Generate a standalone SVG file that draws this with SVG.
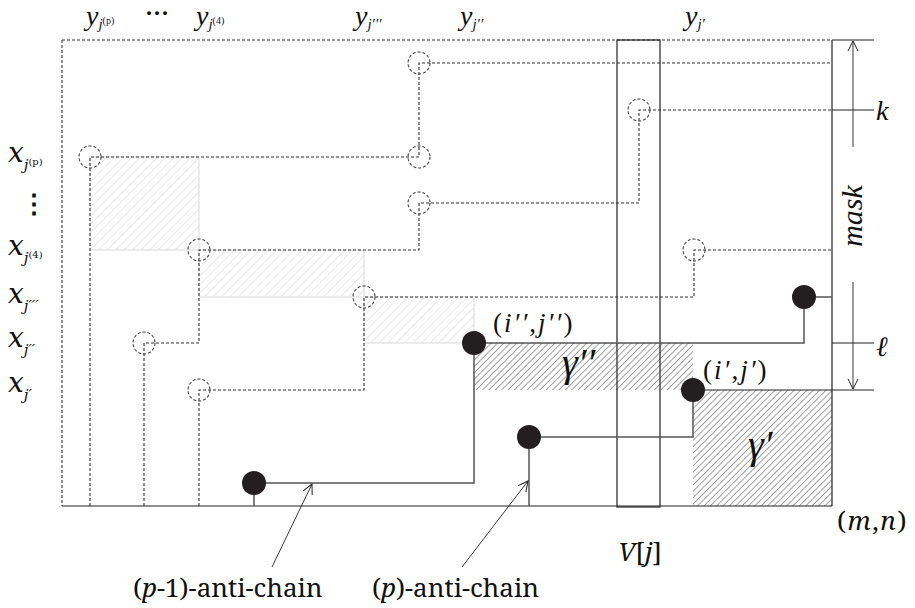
<svg xmlns="http://www.w3.org/2000/svg" width="915" height="608" viewBox="0 0 915 608">
<style>
text{fill:#111}
.m{font-style:italic}
.r{font-style:normal}
.dash{fill:none;stroke:#333;stroke-width:1.1;stroke-dasharray:3 2}
.dc{fill:none;stroke:#444;stroke-width:1.1;stroke-dasharray:3 2}
.solid{fill:none;stroke:#555;stroke-width:1.5}
.frame{fill:none;stroke:#222;stroke-width:1.2}
.dot{fill:#231f20}
.thin{fill:none;stroke:#222;stroke-width:0.9}
</style>
<defs>
<pattern id="hd" patternUnits="userSpaceOnUse" width="4.5" height="4.5" patternTransform="rotate(45)">
<line x1="0" y1="0" x2="0" y2="4.5" stroke="#444" stroke-width="1"/>
</pattern>
<pattern id="hl" patternUnits="userSpaceOnUse" width="6" height="6" patternTransform="rotate(45)">
<line x1="0" y1="0" x2="0" y2="6" stroke="#d4d4d4" stroke-width="1"/>
</pattern>
<marker id="oa" markerWidth="12" markerHeight="12" refX="10" refY="5" orient="auto" markerUnits="userSpaceOnUse" viewBox="0 0 12 10">
<path d="M0,0 L10,5 L0,10" fill="none" stroke="#222" stroke-width="1"/>
</marker>
</defs>

<g id="hatches">
<rect x="90" y="157" width="109" height="93" fill="url(#hl)" stroke="#e6e6e6" stroke-width="1.5"/>
<rect x="199" y="250" width="165" height="47" fill="url(#hl)" stroke="#e6e6e6" stroke-width="1.5"/>
<rect x="364" y="297" width="110" height="46" fill="url(#hl)" stroke="#e6e6e6" stroke-width="1.5"/>
<rect x="474" y="343" width="219" height="47" fill="url(#hd)"/>
<rect x="693" y="390" width="139" height="116" fill="url(#hd)"/>
</g>

<g id="frame">
<path class="dash" d="M62,40 H832 M62,40 V506"/>
<path class="frame" d="M62,506 H832 M832,40 V506"/>
<path class="frame" d="M832,40 H874 M832,110 H874 M832,343 H874 M693,390 H874"/>
<rect id="Vj" class="frame" x="617" y="40" width="43" height="467"/>
</g>

<g id="connectors">
<path class="dash" d="M90,506 V157 H419 V63 H832"/>
<path class="dash" d="M144,506 V343 H199 V250 H419 V203 H639 V110 H832"/>
<path class="dash" d="M199,506 V390 H364 V297 H694 V250 H832"/>
<path class="solid" d="M254,506 V483 H474 V343 H804 V297 H832"/>
<path class="solid" d="M529,506 V437 H693 V390"/>
<line class="thin" x1="853" y1="147" x2="853" y2="41" marker-end="url(#oa)"/>
<line class="thin" x1="853" y1="282" x2="853" y2="389" marker-end="url(#oa)"/>
<line class="thin" x1="272" y1="567" x2="312" y2="484" marker-end="url(#oa)"/>
<line class="thin" x1="462" y1="567" x2="528" y2="481" marker-end="url(#oa)"/>
</g>

<g id="n-dashed">
<circle class="dc" cx="90" cy="157" r="11"/>
<circle class="dc" cx="419" cy="157" r="11"/>
<circle class="dc" cx="419" cy="63" r="11"/>
<circle class="dc" cx="144" cy="343" r="11"/>
<circle class="dc" cx="199" cy="250" r="11"/>
<circle class="dc" cx="419" cy="203" r="11"/>
<circle class="dc" cx="639" cy="110" r="11"/>
<circle class="dc" cx="199" cy="390" r="11"/>
<circle class="dc" cx="364" cy="297" r="11"/>
<circle class="dc" cx="694" cy="250" r="11"/>
</g>

<g id="n-solid">
<circle class="dot" cx="254" cy="483" r="12"/>
<circle class="dot" cx="474" cy="343" r="12"/>
<circle class="dot" cx="804" cy="297" r="12"/>
<circle class="dot" cx="529" cy="437" r="12"/>
<circle class="dot" cx="693" cy="390" r="12"/>
</g>

<g id="top-labels" font-size="28" font-family="'Liberation Serif', serif">
<text class="m" x="86" y="25">y<tspan font-size="15" dy="4">j</tspan><tspan class="r" font-size="10" dy="-5">(p)</tspan></text>
<text class="r" x="145" y="21" font-size="24" font-weight="bold">···</text>
<text class="m" x="196" y="25">y<tspan font-size="15" dy="4">j</tspan><tspan class="r" font-size="10" dy="-5">(4)</tspan></text>
<text class="m" x="355" y="25">y<tspan font-size="15" dy="4">j′′′</tspan></text>
<text class="m" x="460" y="25">y<tspan font-size="15" dy="4">j′′</tspan></text>
<text class="m" x="685" y="25">y<tspan font-size="15" dy="4">j′</tspan></text>
</g>

<g id="left-labels" font-size="28" font-family="'DejaVu Serif', serif">
<text class="m" x="8" y="162">x<tspan font-size="15" dy="8">j</tspan><tspan class="r" font-size="10" dy="-5">(p)</tspan></text>
<text class="r" x="21" y="213" font-size="26" font-weight="bold">⋮</text>
<text class="m" x="8" y="255">x<tspan font-size="15" dy="8">j</tspan><tspan class="r" font-size="10" dy="-5">(4)</tspan></text>
<text class="m" x="8" y="303">x<tspan font-size="15" dy="8">j′′′</tspan></text>
<text class="m" x="8" y="347">x<tspan font-size="15" dy="8">j′′</tspan></text>
<text class="m" x="8" y="392">x<tspan font-size="15" dy="8">j′</tspan></text>
</g>

<g id="right-labels" font-family="serif">
<text class="m" x="876" y="120" font-size="28">k</text>
<text class="m" x="876" y="356" font-size="28">ℓ</text>
<text class="m" x="862" y="216" font-size="30" text-anchor="middle" transform="rotate(-90 862 216)">mask</text>
</g>

<g id="point-labels" font-size="27" font-family="'Times New Roman', serif">
<text class="r" x="493" y="332" letter-spacing="2">(<tspan class="m">i′′</tspan>,<tspan class="m">j′′</tspan>)</text>
<text class="r" x="703" y="379" letter-spacing="2">(<tspan class="m">i′</tspan>,<tspan class="m">j′</tspan>)</text>
<text class="m" x="562" y="376" font-size="40" letter-spacing="0">γ′′</text>
<text class="m" x="748" y="458" font-size="40" letter-spacing="0">γ′</text>
</g>

<g id="bottom-labels" font-size="26" font-family="'Noto Serif', serif">
<text class="r" x="618" y="561"><tspan class="m">V</tspan>[<tspan class="m">j</tspan>]</text>
<text class="r" x="837" y="530" letter-spacing="1.5">(<tspan class="m">m</tspan>,<tspan class="m">n</tspan>)</text>
<text class="r" x="133" y="597">(<tspan class="m">p</tspan>-1)-anti-chain</text>
<text class="r" x="372" y="597">(<tspan class="m">p</tspan>)-anti-chain</text>
</g>
</svg>
